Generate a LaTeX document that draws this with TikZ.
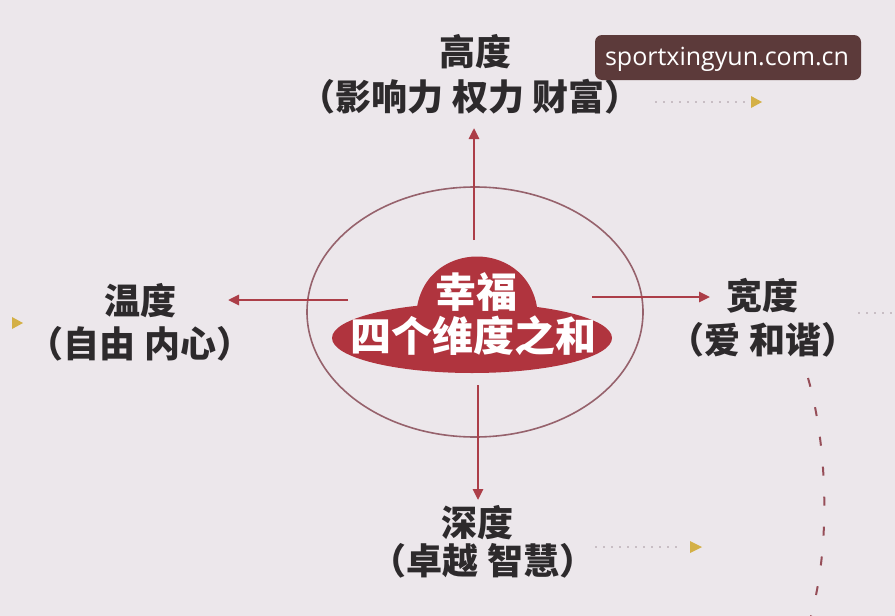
\documentclass[tikz,border=0pt]{standalone}
\usepackage{fontspec}
\usetikzlibrary{arrows.meta}
\newfontfamily\cjk{Noto Sans CJK SC}
\newfontfamily\wmfont{Open Sans}
\definecolor{bgc}{RGB}{236,231,235}
\definecolor{redc}{RGB}{176,52,62}
\definecolor{arrc}{RGB}{172,62,72}
\definecolor{ringc}{RGB}{150,98,108}
\definecolor{txtc}{RGB}{45,42,44}
\definecolor{wmc}{RGB}{92,58,58}
\definecolor{yelc}{RGB}{212,176,70}
\definecolor{dotc}{RGB}{200,190,196}
\definecolor{dashc}{RGB}{150,78,88}
\tikzset{
  lbl/.style={font=\cjk\bfseries\fontsize{36}{40}\selectfont, text=txtc, inner sep=0pt, anchor=center},
  ctext/.style={font=\cjk\bfseries\fontsize{41}{44}\selectfont, text=white, inner sep=0pt},
  redarrow/.style={draw=arrc, line width=2.6pt, -{Triangle[length=11pt,width=10pt]}},
  faintdots/.style={draw=dotc, line width=1.5pt, dash pattern=on 2pt off 6pt},
  ytip/.style={fill=yelc, draw=none},
}
\begin{document}
\begin{tikzpicture}[x=1pt,y=-1pt]
\useasboundingbox (0,0) rectangle (895,616);
\fill[bgc] (0,0) rectangle (895,616);

% outer ring
\draw[ringc, line width=1.6pt] (475,312) ellipse [x radius=168, y radius=125];

% red cloud shape
\fill[redc] (472,338) ellipse [x radius=140, y radius=35];
\fill[redc] (416,318) .. controls (418,236) and (536,236) .. (538,318) -- cycle;
\node[ctext] (happy) at (476,292) {幸福};
\node[ctext] (sum) at (473,336) {四个维度之和};

% labels
\node[lbl] (gaodu) at (475,52) {高度};
\node[lbl] (gaodusub) at (470,97) {（影响力 权力 财富）};
\node[lbl] (wendu) at (140,301) {温度};
\node[lbl] (wendusub) at (140,344) {（自由 内心）};
\node[lbl] (kuandu) at (762,296) {宽度};
\node[lbl] (kuandusub) at (763,340) {（爱 和谐）};
\node[lbl] (shendu) at (477,523) {深度};
\node[lbl] (shendusub) at (483,561) {（卓越 智慧）};

% arrows
\coordinate (uS) at (474,240);
\coordinate (uE) at (474,128);
\coordinate (lS) at (348,300);
\coordinate (lE) at (228,300);
\coordinate (rS) at (592,297);
\coordinate (rE) at (710,297);
\coordinate (dS) at (478,385);
\coordinate (dE) at (478,500);
\draw[redarrow] (uS) -- (uE);
\draw[redarrow] (lS) -- (lE);
\draw[redarrow] (rS) -- (rE);
\draw[redarrow] (dS) -- (dE);

% faint dotted leaders with yellow tips
\coordinate (t1s) at (655,102);
\coordinate (t1e) at (745,102);
\draw[faintdots] (t1s) -- (t1e);
\fill[ytip] (751,96) -- (762,102) -- (751,108) -- cycle;
\coordinate (t2s) at (595,547);
\coordinate (t2e) at (682,547);
\draw[faintdots] (t2s) -- (t2e);
\fill[ytip] (690,541) -- (702,547) -- (690,553) -- cycle;
\fill[ytip] (12,317) -- (23,323) -- (12,329) -- cycle;
\coordinate (t3s) at (858,313);
\coordinate (t3e) at (895,313);
\draw[faintdots] (t3s) -- (t3e);

% dashed curve on the right
\coordinate (cS) at (808,378);
\coordinate (cE) at (811,616);
\draw[dashc, line width=2pt, dash pattern=on 9pt off 21pt] (cS) .. controls (826,440) and (832,540) .. (cE);

% watermark
\fill[wmc, rounded corners=7pt] (595,35) rectangle (861,80);
\node[font=\wmfont\fontsize{25}{28}\selectfont, text=white, inner sep=0pt] (wm) at (727,59) {sportxingyun.com.cn};
\end{tikzpicture}
\end{document}
